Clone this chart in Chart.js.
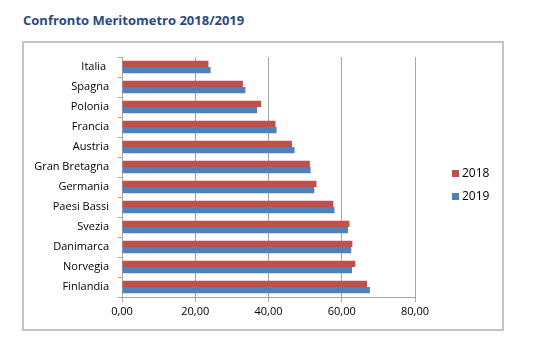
<!DOCTYPE html>
<html>
<head>
<meta charset="utf-8">
<script src="https://cdn.jsdelivr.net/npm/chart.js@4/dist/chart.umd.min.js"></script>
<style>
  html, body { margin: 0; padding: 0; background: #fff; }
  #wrap { position: relative; width: 553px; height: 351px; overflow: hidden; }
  #title {
    position: absolute; left: 23px; top: 11px;
    font-family: "Open Sans", sans-serif; font-weight: bold; font-size: 13px;
    color: #2a4a7f; white-space: nowrap;
  }
  #frame {
    position: absolute; left: 22px; top: 41px; width: 478px; height: 286px;
    border: 2px solid #c4c4c4;
  }
  canvas { position: absolute; left: 0; top: 0; }
</style>
</head>
<body>
<div id="wrap">
  <div id="title">Confronto Meritometro 2018/2019</div>
  <div id="frame"></div>
  <canvas id="meritChart" width="553" height="351"></canvas>
</div>
<script>
const countries = ['Italia ', 'Spagna', 'Polonia', 'Francia', 'Austria', 'Gran Bretagna',
  'Germania', 'Paesi Bassi', 'Svezia', 'Danimarca', 'Norvegia', 'Finlandia'];
const values2018 = [23.6, 33.0, 38.0, 41.9, 46.4, 51.3, 53.1, 57.7, 62.1, 62.9, 63.7, 66.9];
const values2019 = [24.2, 33.7, 36.9, 42.2, 47.1, 51.5, 52.5, 58.0, 61.7, 62.6, 62.8, 67.7];
const xTicks = [0, 20, 40, 60, 80];

const fontFamily = '"Open Sans", sans-serif';

// legend drawn by hand so the plot area keeps its place
const sideLegend = {
  id: 'sideLegend',
  afterDraw(chart) {
    const ctx = chart.ctx;
    ctx.save();
    ctx.font = '12px ' + fontFamily;
    ctx.textBaseline = 'middle';
    chart.data.datasets.forEach((ds, i) => {
      const y = 174 + i * 23;
      ctx.fillStyle = ds.backgroundColor;
      ctx.fillRect(452, y - 4, 7, 7);
      ctx.fillStyle = '#000';
      ctx.fillText(ds.label, 462, y);
    });
    ctx.restore();
  }
};

const ctx = document.getElementById('meritChart').getContext('2d');

new Chart(ctx, {
  type: 'bar',
  data: {
    labels: countries,
    datasets: [
      { label: '2018', data: values2018, backgroundColor: '#c0504d' },
      { label: '2019', data: values2019, backgroundColor: '#4f81bd' }
    ]
  },
  options: {
    indexAxis: 'y',
    responsive: false,
    animation: false,
    categoryPercentage: 0.62,
    barPercentage: 1.0,
    layout: { padding: { left: 0, right: 138, top: 57, bottom: 34 } },
    plugins: {
      legend: { display: false },
      tooltip: { enabled: false }
    },
    scales: {
      x: {
        min: 0,
        max: 80,
        afterBuildTicks(scale) {
          scale.ticks = xTicks.map(v => ({ value: v }));
        },
        afterFit(scale) { scale.height = 20; },
        grid: { color: '#a6a6a6', lineWidth: 1, tickLength: 5 },
        border: { color: '#a6a6a6' },
        ticks: {
          color: '#000',
          padding: 3,
          font: { family: fontFamily, size: 11 },
          callback: v => v.toFixed(2).replace('.', ',')
        }
      },
      y: {
        afterFit(scale) { scale.width = 122; },
        grid: { offset: true, drawOnChartArea: false, color: '#a6a6a6', tickLength: 4 },
        border: { color: '#a6a6a6' },
        ticks: {
          color: '#000',
          padding: 9,
          font: { family: fontFamily, size: 11 }
        }
      }
    }
  },
  plugins: [sideLegend]
});
</script>
</body>
</html>
